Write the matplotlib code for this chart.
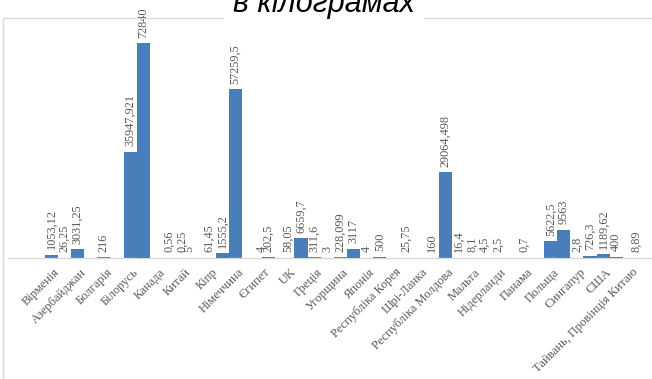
import numpy as np
import matplotlib.pyplot as plt
from matplotlib.patches import Rectangle

countries = ['Вірменія', 'Азербайджан', 'Болгарія', 'Білорусь', 'Канада', 'Китай', 'Кіпр',
             'Німеччина', 'Єгипет', 'UK', 'Греція', 'Угорщина', 'Японія', 'Республіка Корея',
             'Шрі-Ланка', 'Республіка Молдова', 'Мальта', 'Нідерланди', 'Панама', 'Польща',
             'Сингапур', 'США', 'Тайвань, Провінція Китаю']

# three groups per country, None = no shipment
group_a = [1053.12, 3031.25, 216, 35947.921, None, 0.25, 61.45,
           57259.5, 4, 58.05, 311.6, 228.099, 4, None,
           None, 29064.498, 8.1, 2.5, 0.7, 5622.5,
           2.8, 1189.62, None]
group_b = [None, None, None, None, None, 5, None,
           None, 202.5, None, None, None, None, None,
           None, None, None, None, None, None,
           None, None, 8.89]
group_c = [26.25, None, None, 72840, 0.56, None, 1555.2,
           None, None, 6659.7, 3, 3117, 500, 25.75,
           160, 16.4, 4.5, None, None, 9563,
           726.3, 400, None]

W, H, DPI = 652, 379, 100
fig = plt.figure(figsize=(W / DPI, H / DPI), dpi=DPI)

# plot area: x from 8px to right edge, baseline at 258px
ax = fig.add_axes([8 / W, (H - 258) / H, (W - 8) / W, 230 / H])

x = np.arange(len(countries))
bw = 0.5
offsets = [-0.25, 0, 0.25]
blue = '#4a7ebb'
lbl_font = dict(family='Liberation Serif', size=8.8, color='#595959')

for k, (grp, off) in enumerate(zip([group_a, group_b, group_c], offsets)):
    vals = np.array([np.nan if v is None else v for v in grp], dtype=float)
    ax.bar(x + off, vals, width=bw, color=blue, zorder=2 + k)
    for xi, v in zip(x, vals):
        if np.isnan(v):
            continue
        txt = repr(float(v))
        if txt.endswith('.0'):
            txt = txt[:-2]
        txt = txt.replace('.', ',')
        ax.annotate(txt, (xi + off, v), xytext=(0, 4), textcoords='offset points',
                    rotation=90, ha='center', va='bottom', **lbl_font)

ax.set_xlim(-1.9, 22.61)
ax.set_ylim(0, 77966)

for s in ['top', 'right', 'left']:
    ax.spines[s].set_visible(False)
ax.spines['bottom'].set_color('#d9d9d9')
ax.spines['bottom'].set_linewidth(1)
ax.set_yticks([])
ax.set_xticks(x)
ax.set_xticklabels(countries, rotation=45, ha='right', va='center', rotation_mode='anchor',
                   family='Liberation Serif', fontsize=9, color='#595959')
ax.tick_params(axis='x', length=0, pad=9)

# chart frame, only its top and left edges fall inside the image
fig.patches.append(Rectangle((3 / W, -0.2), 2, 1.2 - 18 / H, transform=fig.transFigure,
                             fill=False, edgecolor='#d9d9d9', linewidth=1, zorder=0))

fig.text(0.497, 1 - 12 / H, 'в кілограмах', ha='center', va='baseline',
         fontsize=22, style='italic', family='Liberation Sans', color='black',
         bbox=dict(boxstyle='square,pad=0.3', facecolor='white', edgecolor='none'))

fig.savefig('out.png', dpi=DPI)
